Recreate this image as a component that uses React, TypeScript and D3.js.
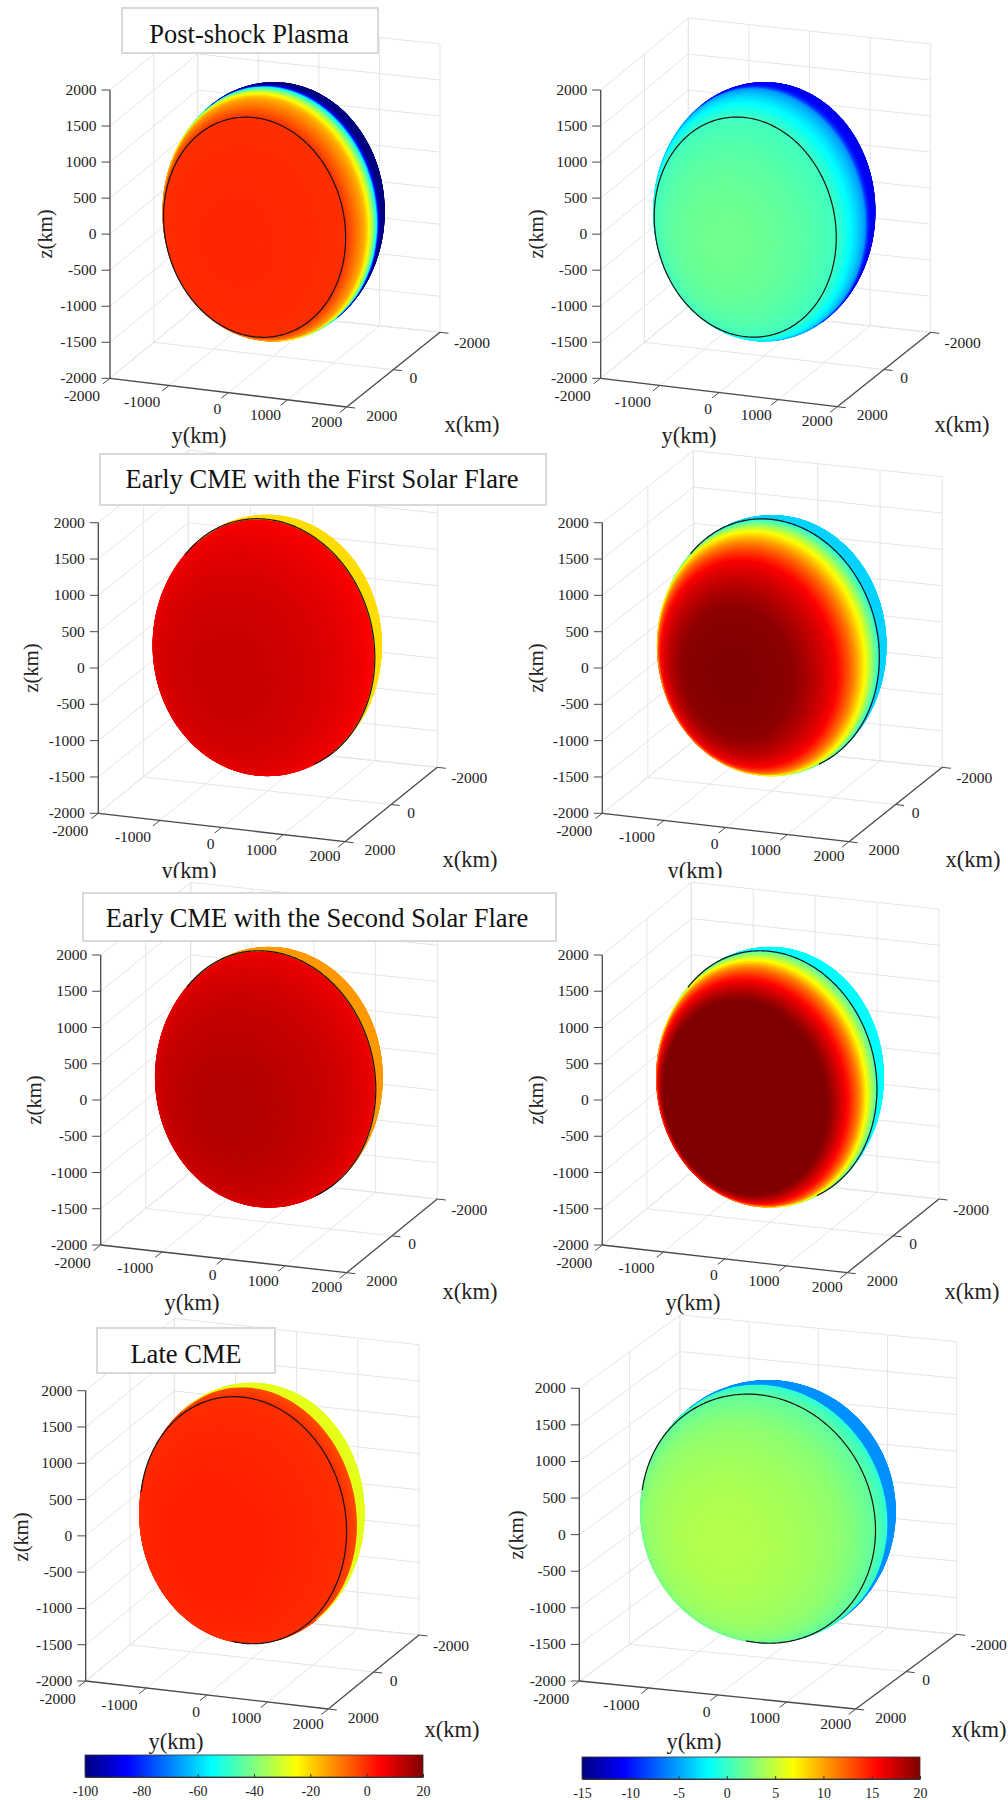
import React, {useEffect, useRef} from 'react';
import * as d3 from 'd3';

// axis ticks (km)
const xTicks = [-2000, 0, 2000];
const yTicks = [-2000, -1000, 0, 1000, 2000];
const zTicks = [-2000, -1500, -1000, -500, 0, 500, 1000, 1500, 2000];

// colour bars
const leftBarDomain = [-100, 20];
const leftBarTicks = [-100, -80, -60, -40, -20, 0, 20];
const rightBarDomain = [-15, 20];
const rightBarTicks = [-15, -10, -5, 0, 5, 10, 15, 20];

const moonRadius = 1737;

// surface value read along x(km), one pair of lists per panel
const postShockLeftX = [1737, 840, 600, 400, 270, 140, 10, -60, -200, -1737];
const postShockLeftV = [0.5, -0.5, -9, -16, -26, -40, -55, -86, -100, -100];
const postShockRightX = [1737, 840, 400, 100, 0, -150, -300, -1737];
const postShockRightV = [2, 0.3, -3, -5.5, -9, -10.8, -11.2, -11.2];
const firstFlareLeftX = [1737, 1000, 0, -5, -1737];
const firstFlareLeftV = [11.6, 9, 5, -21, -21];
const firstFlareRightX = [1737, 1480, 1000, 700, 440, 200, 10, -5, -1737];
const firstFlareRightV = [20, 19.5, 15.8, 11.25, 6.9, 2.5, -0.3, -3.4, -3.4];
const secondFlareLeftX = [1737, 1000, 0, -5, -1737];
const secondFlareLeftV = [14, 11, 6.8, -13, -13];
const secondFlareRightX = [1737, 1100, 800, 540, 340, 100, 0, -5, -1737];
const secondFlareRightV = [20, 20, 15.8, 11.25, 6.9, 2.5, 1.5, -1.9, -1.9];
const lateLeftX = [1737, 380, 0, -5, -1737];
const lateLeftV = [1.5, -0.5, -4, -28, -28];
const lateRightX = [1737, 1000, 380, 0, -5, -1737];
const lateRightV = [4.3, 3, 1.4, -0.5, -5.7, -5.7];

// black circle position on the x axis, one per row
const ringX = [840, 0, 0, 380];

const titles = [
    {text: 'Post-shock Plasma', box: [122, 8, 256, 45], cx: 249, cy: 34},
    {text: 'Early CME with the First Solar Flare', box: [100, 454, 446, 51], cx: 322, cy: 479},
    {text: 'Early CME with the Second Solar Flare', box: [83, 893, 473, 48], cx: 317, cy: 918},
    {text: 'Late CME', box: [97, 1328, 178, 45], cx: 186, cy: 1354},
];

type Pt = [number, number];

const panels: any[] = [
    {o: [110, 378.3], ye: [346.7, 407], xe: [440, 332.3], bl: [197.7, 306.3], top: 90, domain: leftBarDomain, sx: postShockLeftX, sv: postShockLeftV, ring: ringX[0], yT: [199, 435], xT: [472, 424], zT: [45, 234]},
    {o: [600.7, 378.3], ye: [837.3, 406.7], xe: [930.7, 332.3], bl: [688.3, 306.3], top: 90, domain: rightBarDomain, sx: postShockRightX, sv: postShockRightV, ring: ringX[0], yT: [689, 435], xT: [962, 424], zT: [536, 234]},
    {o: [98.3, 813.3], ye: [345, 841.7], xe: [437.3, 767.3], bl: [188.3, 740.7], top: 522.7, domain: leftBarDomain, sx: firstFlareLeftX, sv: firstFlareLeftV, ring: ringX[1], yT: [189, 870], xT: [470, 859], zT: [31, 668]},
    {o: [602.3, 813.3], ye: [849, 841.7], xe: [942.3, 767.3], bl: [693.3, 741.3], top: 522.7, domain: rightBarDomain, sx: firstFlareRightX, sv: firstFlareRightV, ring: ringX[1], yT: [695, 870], xT: [973, 859], zT: [536, 668]},
    {o: [100.7, 1245], ye: [346.7, 1272.7], xe: [437.3, 1199], bl: [190.7, 1172.3], top: 955, domain: leftBarDomain, sx: secondFlareLeftX, sv: secondFlareLeftV, ring: ringX[2], yT: [192, 1302], xT: [470, 1291], zT: [34, 1100]},
    {o: [602.3, 1245], ye: [847.3, 1272.7], xe: [939, 1199], bl: [691.3, 1172.3], top: 955, domain: rightBarDomain, sx: secondFlareRightX, sv: secondFlareRightV, ring: ringX[2], yT: [693, 1302], xT: [972, 1291], zT: [536, 1100]},
    {o: [85.7, 1681], ye: [328.3, 1709], xe: [419, 1635], bl: [174.3, 1608.7], top: 1390.7, domain: leftBarDomain, sx: lateLeftX, sv: lateLeftV, ring: ringX[3], yT: [176, 1741], xT: [452, 1729], zT: [21, 1537]},
    {o: [579.3, 1681], ye: [855.7, 1709], xe: [956.7, 1634.3], bl: [680, 1607.7], top: 1388.3, domain: rightBarDomain, sx: lateRightX, sv: lateRightV, ring: ringX[3], yT: [694, 1741], xT: [979, 1729], zT: [516, 1535]},
];

// same offsets for every panel, tick label centre relative to the tick root
const yLabelDx = [-28, -27, -11, -22, -20];
const yLabelDy = [17, 16, 16, 15, 14];
const xLabelDx = [32, 20, 35];
const xLabelDy = [10, 8, 8];

const serif = '"Liberation Serif", "Times New Roman", serif';
const gridColour = '#e3e5e7';
const axisColour = '#4a4a4a';

const jet = (t: number) => {
    const c = (v: number) => Math.round(255 * Math.max(0, Math.min(1, v)));
    return `rgb(${c(1.5 - Math.abs(4 * t - 3))},${c(1.5 - Math.abs(4 * t - 2))},${c(1.5 - Math.abs(4 * t - 1))})`;
};

const drawPanel = (svg: any, p: any, idx: number) => {
    const g = svg.append('g');
    const xFrac = d3.scaleLinear().domain([2000, -2000]).range([0, 1]);
    const yFrac = d3.scaleLinear().domain([-2000, 2000]).range([0, 1]);
    const H = p.o[1] - p.top;
    const zPix = d3.scaleLinear().domain([-2000, 2000]).range([0, H]);

    // box corner lookup, the figure has a little perspective so bilinear
    const box = (x: number, y: number, z: number): Pt => {
        const u = yFrac(y);
        const v = xFrac(x);
        const mix = (i: number) => p.o[i] * (1 - u) * (1 - v) + p.ye[i] * u * (1 - v) + p.bl[i] * (1 - u) * v + p.xe[i] * u * v;
        return [mix(0), mix(1) - zPix(z)];
    };
    const seg = (a: Pt, b: Pt, colour: string, w: number) => g.append('line')
        .attr('x1', a[0]).attr('y1', a[1]).attr('x2', b[0]).attr('y2', b[1])
        .attr('stroke', colour).attr('stroke-width', w);

    // grid on the two walls and the floor
    yTicks.forEach((y) => {
        seg(box(-2000, y, -2000), box(-2000, y, 2000), gridColour, 1);
        seg(box(2000, y, -2000), box(-2000, y, -2000), gridColour, 1);
    });
    xTicks.forEach((x) => {
        seg(box(x, -2000, -2000), box(x, -2000, 2000), gridColour, 1);
        seg(box(x, -2000, -2000), box(x, 2000, -2000), gridColour, 1);
    });
    zTicks.forEach((z) => {
        seg(box(2000, -2000, z), box(-2000, -2000, z), gridColour, 1);
        seg(box(-2000, -2000, z), box(-2000, 2000, z), gridColour, 1);
    });

    // sphere: linear projection taken at the box centre
    const cx = (p.o[0] + p.ye[0] + p.xe[0] + p.bl[0]) / 4;
    const cy = (p.o[1] + p.ye[1] + p.xe[1] + p.bl[1]) / 4 - H / 2;
    const ex: Pt = [-(p.xe[0] - p.ye[0] + p.bl[0] - p.o[0]) / 4, -(p.xe[1] - p.ye[1] + p.bl[1] - p.o[1]) / 4];
    const ey: Pt = [(p.ye[0] - p.o[0] + p.xe[0] - p.bl[0]) / 4, (p.ye[1] - p.o[1] + p.xe[1] - p.bl[1]) / 4];
    const ez: Pt = [0, -H / 2];
    const project = (x: number, y: number, z: number): Pt => [
        cx + (x * ex[0] + y * ey[0] + z * ez[0]) / 2000,
        cy + (x * ex[1] + y * ey[1] + z * ez[1]) / 2000,
    ];
    // viewing direction is the null space of the projection
    let view = [
        ey[0] * ez[1] - ez[0] * ey[1],
        ez[0] * ex[1] - ex[0] * ez[1],
        ex[0] * ey[1] - ey[0] * ex[1],
    ];
    const vLen = Math.hypot(view[0], view[1], view[2]);
    const vSign = view[0] > 0 ? 1 : -1;
    view = view.map((d) => (d / vLen) * vSign);
    const facing = (x: number, y: number, z: number) => x * view[0] + y * view[1] + z * view[2];

    // limb outline for the clip
    const a = [-view[1], view[0], 0];
    const aLen = Math.hypot(a[0], a[1]);
    const e1 = a.map((d) => d / aLen);
    const e2 = [
        view[1] * e1[2] - view[2] * e1[1],
        view[2] * e1[0] - view[0] * e1[2],
        view[0] * e1[1] - view[1] * e1[0],
    ];
    const limb: Pt[] = d3.range(0, 361, 2).map((deg) => {
        const t = (deg * Math.PI) / 180;
        const q = [0, 1, 2].map((i) => moonRadius * (Math.cos(t) * e1[i] + Math.sin(t) * e2[i]));
        return project(q[0], q[1], q[2]);
    });
    const clipId = `limb-${idx}`;
    svg.append('clipPath').attr('id', clipId).append('path').attr('d', d3.line()(limb) + 'Z');

    const surface = d3.scaleLinear().domain(p.sx).range(p.sv).clamp(true);
    const colour = d3.scaleSequential(jet).domain(p.domain).clamp(true);

    const thetaStep = 1.5;
    const phiStep = 3.75;
    const sphere = g.append('g').attr('clip-path', `url(#${clipId})`);
    const onSphere = (th: number, ph: number) => {
        const t = (th * Math.PI) / 180;
        const f = (ph * Math.PI) / 180;
        return [moonRadius * Math.cos(t), moonRadius * Math.sin(t) * Math.cos(f), moonRadius * Math.sin(t) * Math.sin(f)];
    };
    d3.range(0, 180, thetaStep).forEach((th) => {
        let d = '';
        d3.range(0, 360, phiStep).forEach((ph) => {
            const corners = [onSphere(th, ph), onSphere(th + thetaStep, ph), onSphere(th + thetaStep, ph + phiStep), onSphere(th, ph + phiStep)];
            if (!corners.some((q) => facing(q[0], q[1], q[2]) > 0)) return;
            const pts = corners.map((q) => project(q[0], q[1], q[2]));
            d += 'M' + pts.map((q) => `${q[0].toFixed(1)},${q[1].toFixed(1)}`).join('L') + 'Z';
        });
        if (!d) return;
        const midX = moonRadius * Math.cos(((th + thetaStep / 2) * Math.PI) / 180);
        const fill = colour(surface(midX));
        sphere.append('path').attr('d', d).attr('fill', fill).attr('stroke', fill).attr('stroke-width', 1.2);
    });

    // black ring at constant x; it runs on a little past the limb, as the source does
    const ringRadius = Math.sqrt(moonRadius * moonRadius - p.ring * p.ring);
    const ringPoint = (deg: number) => {
        const t = (deg * Math.PI) / 180;
        return [p.ring, ringRadius * Math.cos(t), ringRadius * Math.sin(t)];
    };
    const ringLine = d3.line<number>()
        .defined((deg) => {
            const q = ringPoint(deg);
            return facing(q[0], q[1], q[2]) >= -0.09 * moonRadius;
        })
        .x((deg) => {
            const q = ringPoint(deg);
            return project(q[0], q[1], q[2])[0];
        })
        .y((deg) => {
            const q = ringPoint(deg);
            return project(q[0], q[1], q[2])[1];
        });
    g.append('path').attr('d', ringLine(d3.range(0, 361, 1))).attr('fill', 'none').attr('stroke', '#151515').attr('stroke-width', 1.2);

    // axes
    seg(box(2000, -2000, -2000), box(2000, -2000, 2000), axisColour, 1.3);
    seg(box(2000, -2000, -2000), box(2000, 2000, -2000), axisColour, 1.3);
    seg(box(2000, 2000, -2000), box(-2000, 2000, -2000), axisColour, 1.3);

    const label = (txt: string, x: number, y: number, anchor: string, size: number, rotate?: boolean) => {
        const t = g.append('text')
            .attr('x', x).attr('y', y)
            .attr('text-anchor', anchor)
            .attr('dominant-baseline', 'central')
            .attr('font-family', serif)
            .attr('font-size', size)
            .attr('fill', '#222')
            .text(txt);
        if (rotate) t.attr('transform', `rotate(-90 ${x} ${y})`);
    };

    zTicks.forEach((z) => {
        const q = box(2000, -2000, z);
        seg(q, [q[0] - 8.5, q[1]], axisColour, 1);
        label(String(z), q[0] - 13.5, q[1] - 0.5, 'end', 15.5);
    });
    yTicks.forEach((y, i) => {
        const q = box(2000, y, -2000);
        seg(q, [q[0] - 7, q[1] + 5.5], axisColour, 1);
        label(String(y), q[0] + yLabelDx[i], q[1] + yLabelDy[i], 'middle', 15.5);
    });
    xTicks.forEach((x, i) => {
        const q = box(x, 2000, -2000);
        seg(q, [q[0] + 8.5, q[1] + 1], axisColour, 1);
        label(String(x), q[0] + xLabelDx[i], q[1] + xLabelDy[i], 'middle', 15.5);
    });

    label('y(km)', p.yT[0], p.yT[1], 'middle', 22.5);
    label('x(km)', p.xT[0], p.xT[1], 'middle', 22.5);
    label('z(km)', p.zT[0], p.zT[1], 'middle', 20.5, true);
};

const drawTitle = (svg: any, t: any) => {
    svg.append('rect')
        .attr('x', t.box[0]).attr('y', t.box[1])
        .attr('width', t.box[2]).attr('height', t.box[3])
        .attr('fill', '#fff').attr('stroke', '#d9d9d9').attr('stroke-width', 2);
    svg.append('text')
        .attr('x', t.cx).attr('y', t.cy)
        .attr('text-anchor', 'middle')
        .attr('dominant-baseline', 'central')
        .attr('font-family', serif)
        .attr('font-size', 26.5)
        .attr('fill', '#111')
        .text(t.text);
};

const drawBar = (svg: any, id: string, domain: number[], ticks: number[], x0: number, x1: number, y: number, h: number) => {
    const scale = d3.scaleLinear().domain(domain).range([x0, x1]);
    const colour = d3.scaleSequential(jet).domain(domain);
    const grad = svg.append('linearGradient').attr('id', id);
    d3.range(0, 65).forEach((i) => {
        grad.append('stop')
            .attr('offset', `${(i / 64) * 100}%`)
            .attr('stop-color', colour(domain[0] + ((domain[1] - domain[0]) * i) / 64));
    });
    svg.append('rect')
        .attr('x', x0).attr('y', y).attr('width', x1 - x0).attr('height', h)
        .attr('fill', `url(#${id})`).attr('stroke', '#333').attr('stroke-width', 0.8);
    const axis = svg.append('g')
        .attr('transform', `translate(0, ${y + h})`)
        .call(d3.axisBottom(scale).tickValues(ticks).tickSizeInner(-3).tickSizeOuter(0).tickPadding(9).tickFormat((d: any) => String(d)));
    axis.select('.domain').attr('stroke', '#333');
    axis.selectAll('line').attr('stroke', '#333');
    axis.selectAll('text').attr('font-family', serif).attr('font-size', 14).attr('fill', '#222');
};

const App = () => {
    const ref = useRef<SVGSVGElement>(null);

    useEffect(() => {
        const svg = d3.select(ref.current);
        svg.selectAll('*').remove();
        panels.forEach((p, i) => {
            // third row sits on top of the text of the second, as in the source
            if (i === 4) {
                svg.append('rect').attr('x', 0).attr('y', 878).attr('width', 1008).attr('height', 12).attr('fill', '#fff');
            }
            drawPanel(svg, p, i);
        });
        titles.forEach((t) => drawTitle(svg, t));
        drawBar(svg, 'barLeft', leftBarDomain, leftBarTicks, 85, 423, 1755, 22);
        drawBar(svg, 'barRight', rightBarDomain, rightBarTicks, 582, 920, 1757, 22);
    }, []);

    return <svg ref={ref} width={1008} height={1800} style={{position: 'absolute', left: 0, top: 0, background: '#fff'}} />;
};

export default App;
